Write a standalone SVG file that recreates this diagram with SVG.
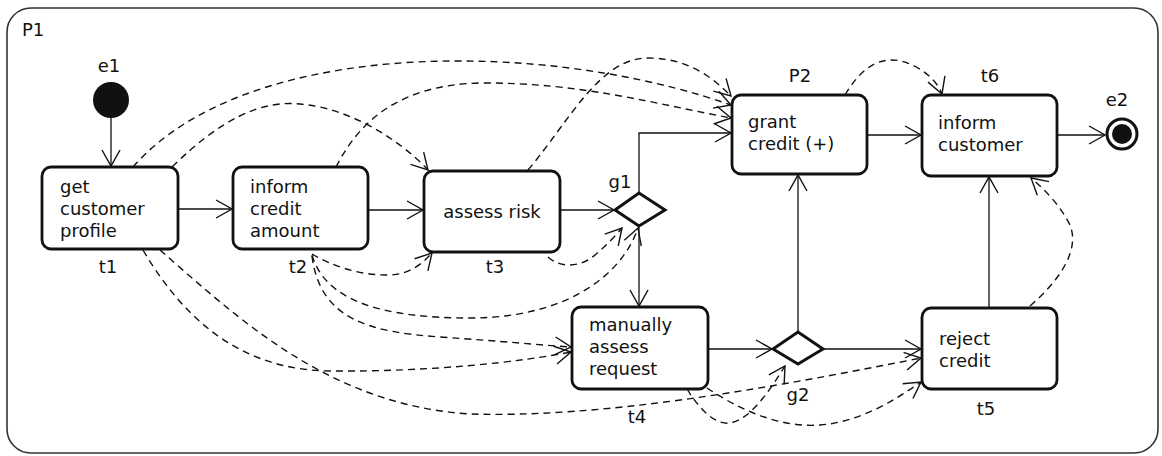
<svg xmlns="http://www.w3.org/2000/svg" width="1162" height="456" viewBox="0 0 1162 456">
<style>
text{font-family:"DejaVu Sans","Liberation Sans",sans-serif;font-size:18px;fill:#111}
.lbl{text-anchor:middle}
.box{fill:#fff;stroke:#111;stroke-width:2.8}
.gw{fill:#fff;stroke:#111;stroke-width:3}
.s{fill:none;stroke:#111;stroke-width:1.3;marker-end:url(#a)}
.d{fill:none;stroke:#111;stroke-width:1.4;stroke-dasharray:7 5;marker-end:url(#a)}
</style>
<defs>
<marker id="a" markerUnits="userSpaceOnUse" markerWidth="20" markerHeight="22" viewBox="-18 -11 20 22" refX="0" refY="0" orient="auto">
<path d="M-16,-9 L0,0 L-16,9" fill="none" stroke="#111" stroke-width="1.4"/>
</marker>
</defs>
<rect x="7" y="8" width="1151" height="445" rx="24" fill="#fff" stroke="#333" stroke-width="1.6"/>
<text x="22" y="36">P1</text>
<g id="connectors">
<path class="s" d="M111,118 L111,166"/>
<path class="s" d="M178,209 L232,209"/>
<path class="s" d="M368,210 L423,210"/>
<path class="s" d="M560,210 L614,210"/>
<path class="s" d="M639,193 L639,133 L731,133"/>
<path class="s" d="M639,227 L639,306"/>
<path class="s" d="M867,135 L921,135"/>
<path class="s" d="M1057,135 L1105,135"/>
<path class="s" d="M708,349 L772,349"/>
<path class="s" d="M823,349 L921,349"/>
<path class="s" d="M798,332 L798,175"/>
<path class="s" d="M989,308 L989,177"/>
<path class="d" d="M133,167 C200,90 330,62 450,61 C560,60 660,80 731,105"/>
<path class="d" d="M172,167 C220,120 260,100 300,104 C350,108 400,140 428,170"/>
<path class="d" d="M336,167 C360,120 400,85 480,83 C580,82 660,105 731,118"/>
<path class="d" d="M528,170 C570,120 600,58 648,58 C690,58 715,80 731,96"/>
<path class="d" d="M845,95 C860,70 875,60 892,60 C910,60 935,75 942,94"/>
<path class="d" d="M312,254 C330,265 360,276 390,275 C410,274 422,264 432,253"/>
<path class="d" d="M312,255 C325,300 380,318 470,318 C560,318 620,280 638,228"/>
<path class="d" d="M312,256 C320,320 370,332 440,337 C500,341 540,345 571,347"/>
<path class="d" d="M143,250 C190,330 250,370 330,371 C430,372 520,362 571,352"/>
<path class="d" d="M160,250 C240,320 330,405 470,414 C600,418 760,390 921,358"/>
<path class="d" d="M548,257 C560,268 580,268 595,255 C607,245 615,236 622,228"/>
<path class="d" d="M687,389 C700,410 715,425 730,423 C750,420 770,390 785,366"/>
<path class="d" d="M707,388 C740,410 780,428 820,425 C860,422 895,400 921,382"/>
<path class="d" d="M1030,306 C1060,280 1080,250 1070,225 C1060,205 1045,190 1031,178"/>
</g>
<g id="e1">
<circle cx="111" cy="100" r="18" fill="#111"/>
<text class="lbl" x="109" y="72">e1</text>
</g>
<g id="t1">
<rect class="box" x="42" y="167" width="136" height="82" rx="9"/>
<text x="60" y="193">get</text>
<text x="60" y="215">customer</text>
<text x="60" y="237">profile</text>
<text class="lbl" x="108" y="273">t1</text>
</g>
<g id="t2">
<rect class="box" x="233" y="167" width="135" height="82" rx="9"/>
<text x="250" y="193">inform</text>
<text x="250" y="215">credit</text>
<text x="250" y="237">amount</text>
<text class="lbl" x="298" y="273">t2</text>
</g>
<g id="t3">
<rect class="box" x="424" y="171" width="136" height="81" rx="9"/>
<text class="lbl" x="492" y="218">assess risk</text>
<text class="lbl" x="495" y="273">t3</text>
</g>
<g id="g1">
<polygon class="gw" points="615,210 639,193 665,210 639,226"/>
<text class="lbl" x="620" y="188">g1</text>
</g>
<g id="P2">
<rect class="box" x="732" y="95" width="135" height="79" rx="9"/>
<text x="748" y="128">grant</text>
<text x="748" y="150">credit (+)</text>
<text class="lbl" x="800" y="82">P2</text>
</g>
<g id="t6">
<rect class="box" x="922" y="95" width="135" height="81" rx="9"/>
<text x="938" y="129">inform</text>
<text x="938" y="151">customer</text>
<text class="lbl" x="990" y="82">t6</text>
</g>
<g id="e2">
<circle cx="1122" cy="134" r="15" fill="#fff" stroke="#111" stroke-width="3"/>
<circle cx="1122" cy="134" r="10" fill="#111"/>
<text class="lbl" x="1117" y="106">e2</text>
</g>
<g id="t4">
<rect class="box" x="572" y="307" width="136" height="82" rx="9"/>
<text x="589" y="331">manually</text>
<text x="589" y="353">assess</text>
<text x="589" y="375">request</text>
<text class="lbl" x="637" y="423">t4</text>
</g>
<g id="g2">
<polygon class="gw" points="773,349 798,332 823,349 798,364"/>
<text class="lbl" x="798" y="401">g2</text>
</g>
<g id="t5">
<rect class="box" x="922" y="308" width="135" height="81" rx="9"/>
<text x="939" y="345">reject</text>
<text x="939" y="367">credit</text>
<text class="lbl" x="986" y="415">t5</text>
</g>
</svg>
